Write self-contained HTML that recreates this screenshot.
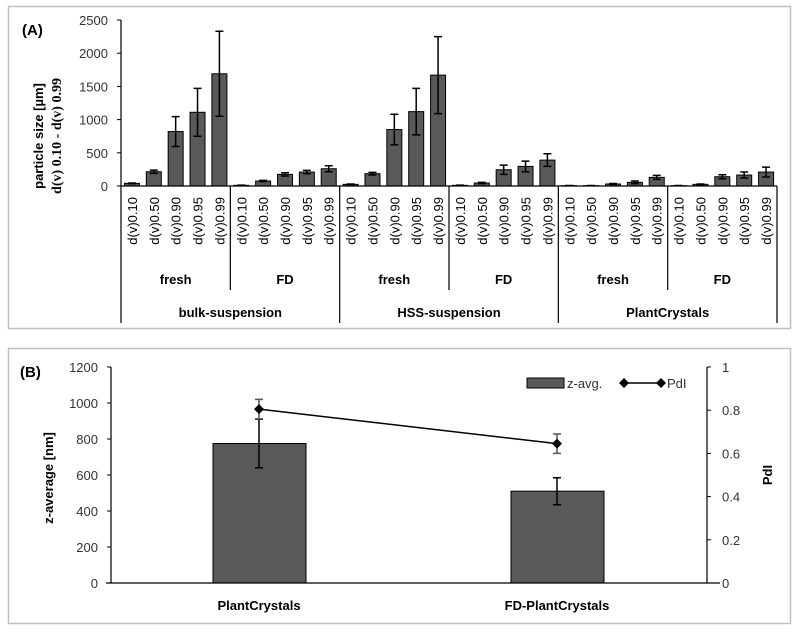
<!DOCTYPE html>
<html><head><meta charset="utf-8"><style>
body{margin:0;background:#fff}
svg{display:block;font-family:"Liberation Sans",sans-serif}
</style></head><body>
<svg id="c" width="799" height="632"></svg>
<script>
const catsA=["d(v)0.10","d(v)0.50","d(v)0.90","d(v)0.95","d(v)0.99"];
const subgroups=["fresh","FD","fresh","FD","fresh","FD"];
const groups=["bulk-suspension","HSS-suspension","PlantCrystals"];
const valsA=[40,215,820,1110,1690, 10,75,175,210,260, 25,185,850,1120,1670, 10,45,245,295,390, 5,5,30,55,130, 5,25,140,165,210];
const errA=[5,25,225,360,640, 3,10,25,25,45, 5,20,230,350,580, 3,10,70,80,95, 2,2,8,20,30, 2,5,30,45,75];
const ticksA=[0,500,1000,1500,2000,2500];
const catsB=["PlantCrystals","FD-PlantCrystals"];
const zavg=[775,510];
const zerr=[135,75];
const pdi=[0.805,0.645];
const pdiErr=[0.045,0.045];
const ticksBL=[0,200,400,600,800,1000,1200];
const ticksBR=[0,0.2,0.4,0.6,0.8,1];
const ticksBRLabels=["0","0.2","0.4","0.6","0.8","1"];

const S=document.getElementById('c');const NS="http://www.w3.org/2000/svg";
function el(t,a,txt,parent){const e=document.createElementNS(NS,t);for(const k in a)e.setAttribute(k,a[k]);if(txt!==undefined)e.textContent=txt;(parent||S).appendChild(e);return e;}

// Panel A
const pa=el('rect',{x:8.5,y:6.5,width:782,height:322,fill:'none',stroke:'#bfbfbf','stroke-width':1.5});

const la=el('text',{x:22,y:35,'font-size':15,'font-weight':'bold',fill:'#000'},'(A)');

const ax0=121,ax1=777,ay0=186,ay1=20;
const yA=v=>ay0-(v/2500)*(ay0-ay1);
const cw=(ax1-ax0)/30;
ticksA.forEach(t=>{const tx=el('text',{x:108,y:yA(t)+5,'font-size':13,'text-anchor':'end',fill:'#333'},t);

el('line',{x1:117,x2:121,y1:yA(t),y2:yA(t),stroke:'#000'});});
const yt=el('text',{transform:'translate(43,136) rotate(-90)','font-size':13,'font-weight':'bold','text-anchor':'middle'},'particle size [µm]');

const yt2=el('text',{transform:'translate(61,136) rotate(-90)','font-size':14,'font-weight':'bold','font-family':'Liberation Serif,serif','text-anchor':'middle'},'d(v) 0.10 - d(v) 0.99');

valsA.forEach((v,i)=>{const cx=ax0+cw*(i+0.5);
const b=el('rect',{x:cx-7.5,y:yA(v),width:15,height:ay0-yA(v),fill:'#595959',stroke:'#000','stroke-width':1});

const e=errA[i];
el('path',{d:`M${cx},${yA(v+e)}V${yA(Math.max(0,v-e))}M${cx-4},${yA(v+e)}h8M${cx-4},${yA(Math.max(0,v-e))}h8`,stroke:'#000','stroke-width':1.5,fill:'none'});
const t=el('text',{transform:`translate(${cx+5},197) rotate(-90)`,'font-size':13,'text-anchor':'end',fill:'#000'},catsA[i%5]);

});
el('line',{x1:ax0,x2:ax0,y1:ay1,y2:ay0,stroke:'#000','stroke-width':1.2});
el('line',{x1:ax0,x2:ax1,y1:ay0,y2:ay0,stroke:'#000','stroke-width':1.2});
for(let g=0;g<=6;g++){const x=ax0+g*5*cw;el('line',{x1:x,x2:x,y1:ay0,y2:(g%2==0?323:290),stroke:'#000','stroke-width':1.2});}
subgroups.forEach((s,g)=>{const t=el('text',{x:ax0+(g*5+2.5)*cw,y:284,'font-size':13,'font-weight':'bold','text-anchor':'middle'},s);
});
groups.forEach((s,g)=>{const t=el('text',{x:ax0+(g*10+5)*cw,y:317,'font-size':13,'font-weight':'bold','text-anchor':'middle'},s);
});

// Panel B
const pb=el('rect',{x:8.5,y:348.5,width:782,height:275,fill:'none',stroke:'#bfbfbf','stroke-width':1.5});

const lb=el('text',{x:20,y:377,'font-size':15,'font-weight':'bold'},'(B)');

const bx0=106,bx1=720,by0=583,by1=367,lx=111,rx=707;
const yL=v=>by0-(v/1200)*(by0-by1);
const yR=v=>by0-v*(by0-by1);
const xB=i=>[259,557][i];
ticksBL.forEach(t=>{const tx=el('text',{x:98,y:yL(t)+5,'font-size':13,'text-anchor':'end',fill:'#333'},t);

el('line',{x1:lx-4,x2:lx,y1:yL(t),y2:yL(t),stroke:'#000'});});
ticksBR.forEach((t,i)=>{const tx=el('text',{x:722,y:yR(t)+5,'font-size':13,fill:'#333'},ticksBRLabels[i]);

el('line',{x1:rx,x2:rx+4,y1:yR(t),y2:yR(t),stroke:'#000'});});
const bl=el('text',{transform:'translate(53,478) rotate(-90)','font-size':13,'font-weight':'bold','text-anchor':'middle'},'z-average [nm]');

const br=el('text',{transform:'translate(772,475) rotate(-90)','font-size':13,'font-weight':'bold','text-anchor':'middle'},'PdI');

zavg.forEach((v,i)=>{const cx=xB(i);
const b=el('rect',{x:cx-46,y:yL(v),width:93,height:by0-yL(v),fill:'#595959',stroke:'#000','stroke-width':1});

const e=zerr[i];
el('path',{d:`M${cx},${yL(v+e)}V${yL(v-e)}M${cx-4},${yL(v+e)}h8M${cx-4},${yL(v-e)}h8`,stroke:'#000','stroke-width':1.5,fill:'none'});
const t=el('text',{x:cx,y:610,'font-size':13,'font-weight':'bold','text-anchor':'middle'},catsB[i]);
});
const ln=el('polyline',{points:pdi.map((v,i)=>xB(i)+','+yR(v)).join(' '),fill:'none',stroke:'#000','stroke-width':1.5});

pdi.forEach((v,i)=>{const cx=xB(i),e=pdiErr[i];
el('path',{d:`M${cx},${yR(v+e)}V${yR(v-e)}M${cx-4},${yR(v+e)}h8M${cx-4},${yR(v-e)}h8`,stroke:'#555','stroke-width':1.5,fill:'none'});
const p=el('path',{d:`M${cx},${yR(v)-5}l5,5l-5,5l-5,-5z`,fill:'#000'});
});
el('line',{x1:lx,x2:lx,y1:by1,y2:by0,stroke:'#000','stroke-width':1.2});
el('line',{x1:rx,x2:rx,y1:by1,y2:by0,stroke:'#000','stroke-width':1.2});
el('line',{x1:bx0,x2:bx1,y1:by0,y2:by0,stroke:'#000','stroke-width':1.2});
// legend
const lg=el('g',{});
el('rect',{x:527,y:378,width:37,height:10,fill:'#595959',stroke:'#000'},undefined,lg);
el('text',{x:567,y:388,'font-size':13,fill:'#333'},'z-avg.',lg);
el('line',{x1:624,x2:663,y1:383,y2:383,stroke:'#000','stroke-width':1.5},undefined,lg);
el('path',{d:'M624,378l5,5l-5,5l-5,-5zM661,378l5,5l-5,5l-5,-5z',fill:'#000'},undefined,lg);
el('text',{x:667,y:388,'font-size':13,fill:'#333'},'PdI',lg);
</script>
</body></html>
